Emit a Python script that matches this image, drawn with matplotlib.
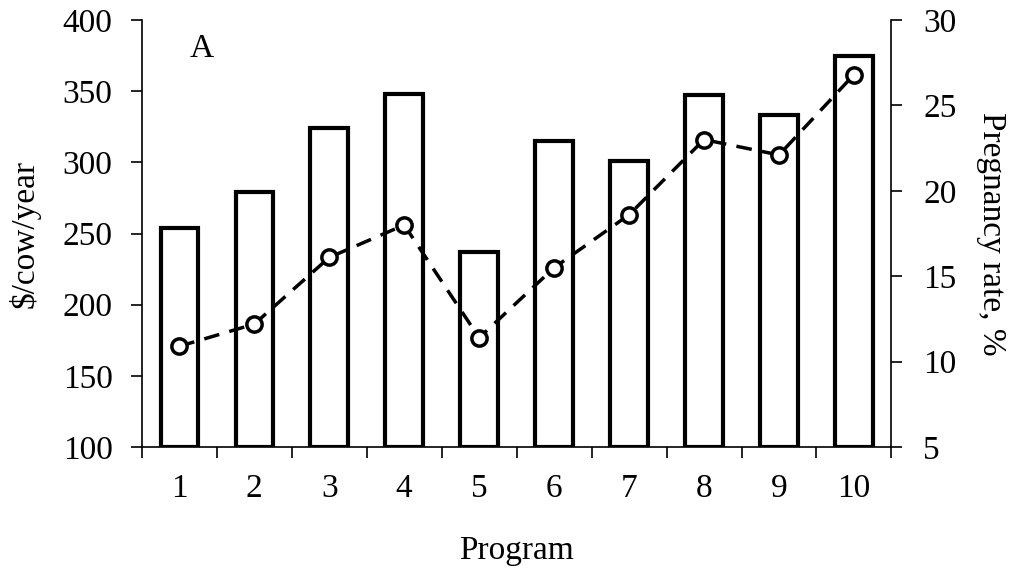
import matplotlib

matplotlib.use("Agg")
import matplotlib.pyplot as plt
import numpy as np

programs = [1, 2, 3, 4, 5, 6, 7, 8, 9, 10]
cost = [254, 279, 324, 348, 237, 315, 301, 347, 333, 375]
pregnancy = [10.9, 12.2, 16.1, 18.0, 11.4, 15.5, 18.6, 23.0, 22.1, 26.8]

plt.rcParams["font.family"] = ["Liberation Serif", "DejaVu Serif"]
plt.rcParams["font.size"] = 24
plt.rcParams["mathtext.default"] = "regular"

fig, ax = plt.subplots(figsize=(10.13, 5.71), dpi=100)
fig.subplots_adjust(left=0.140, right=0.880, top=0.965, bottom=0.217)

x = np.array(programs)
ax.bar(x, np.array(cost) - 100, bottom=100, width=0.5,
       facecolor="white", edgecolor="black", linewidth=3, zorder=2)
ax.set_xlim(0.5, 10.5)
ax.set_ylim(100, 400)
ax.set_yticks(range(100, 401, 50))

# boundary ticks between categories, labels centred on each bar
ax.set_xticks(np.arange(0.5, 10.6, 1))
ax.set_xticklabels([])
ax.set_xticks(x, minor=True)
ax.set_xticklabels([str(p) for p in programs], minor=True)
ax.tick_params(axis="x", which="major", direction="out", length=8, width=1.2)
ax.tick_params(axis="x", which="minor", length=0, pad=19)
ax.tick_params(axis="y", direction="out", length=8, width=1.2, pad=13)

for side in ("top", "right"):
    ax.spines[side].set_visible(False)
for side in ("left", "bottom"):
    ax.spines[side].set_linewidth(1.2)

ax.set_xlabel("Program", labelpad=23)
ax.set_ylabel(r"\$/cow/year", labelpad=16)
ax.text(1.3, 380, "A", ha="center", va="center")

ax2 = ax.twinx()
ax2.plot(x, pregnancy, ls=(0, (4.5, 3)), lw=2.5, color="black",
         marker="o", markersize=11, markerfacecolor="white",
         markeredgecolor="black", markeredgewidth=2.5, zorder=3)
ax2.set_ylim(5, 30)
ax2.set_yticks(range(5, 31, 5))
ax2.tick_params(axis="y", direction="out", length=8, width=1.2, pad=15)
for side in ("top", "left", "bottom"):
    ax2.spines[side].set_visible(False)
ax2.spines["right"].set_linewidth(1.2)
ax2.set_ylabel("Pregnancy rate, %", rotation=270, labelpad=36)

fig.savefig("out.png", dpi=100)
plt.close(fig)
